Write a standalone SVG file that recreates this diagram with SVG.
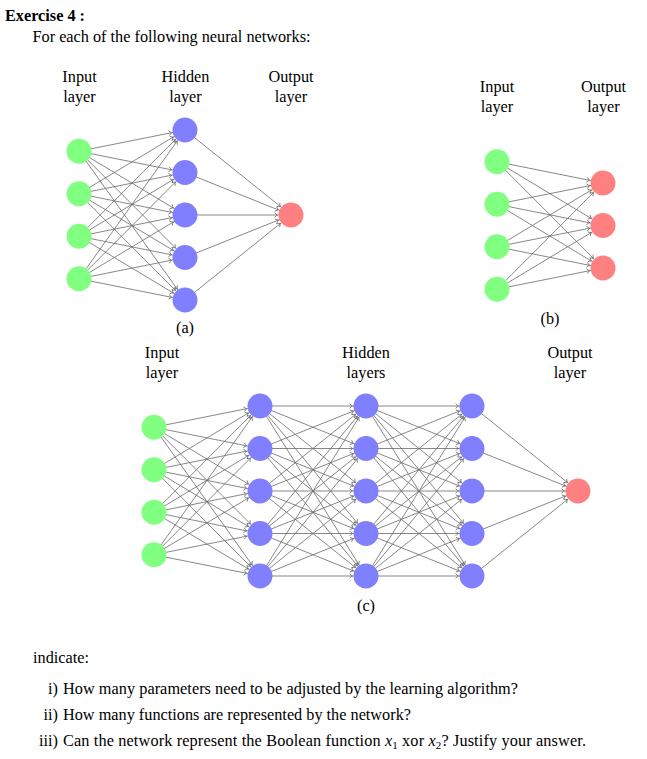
<svg xmlns="http://www.w3.org/2000/svg" width="647" height="759" viewBox="0 0 647 759">
<style>
text{font-family:"Liberation Serif","Times New Roman",serif;font-size:16.25px;fill:#000}
.c{text-anchor:middle}
.b{font-weight:bold}
.in{fill:#80FF80}
.hd{fill:#8080FF}
.out{fill:#FF8080}
#connectors line{stroke:#6a6a6a;stroke-width:0.8;marker-end:url(#ah)}
</style>
<defs>
<marker id="ah" markerUnits="userSpaceOnUse" markerWidth="20" markerHeight="10" refX="13.6" refY="0" orient="auto" style="overflow:visible">
<path d="M-2.8,-2.4 Q-1.2,-0.6 0,0 Q-1.2,0.6 -2.8,2.4" fill="none" stroke="#6a6a6a" stroke-width="0.8"/>
</marker>
</defs>
<rect width="647" height="759" fill="#fff"/>
<text x="5" y="21" class="b">Exercise 4 :</text>
<text x="32.5" y="42">For each of the following neural networks:</text>

<g id="labels-a">
<text x="79.5" y="82" class="c">Input</text><text x="79.5" y="102" class="c">layer</text>
<text x="185.5" y="82" class="c">Hidden</text><text x="185.5" y="102" class="c">layer</text>
<text x="291" y="82" class="c">Output</text><text x="291" y="102" class="c">layer</text>
<text x="185" y="333" class="c">(a)</text>
</g>
<g id="labels-b">
<text x="497" y="92" class="c">Input</text><text x="497" y="112" class="c">layer</text>
<text x="603.5" y="92" class="c">Output</text><text x="603.5" y="112" class="c">layer</text>
<text x="550" y="324" class="c">(b)</text>
</g>
<g id="labels-c">
<text x="162" y="358" class="c">Input</text><text x="162" y="378" class="c">layer</text>
<text x="366" y="358" class="c">Hidden</text><text x="366" y="378" class="c">layers</text>
<text x="570" y="358" class="c">Output</text><text x="570" y="378" class="c">layer</text>
<text x="366" y="611" class="c">(c)</text>
</g>

<g id="connectors">
<!-- (a) input -> hidden -->
<line x1="79" y1="151.25" x2="185" y2="130"/><line x1="79" y1="151.25" x2="185" y2="172.5"/><line x1="79" y1="151.25" x2="185" y2="215"/><line x1="79" y1="151.25" x2="185" y2="257.5"/><line x1="79" y1="151.25" x2="185" y2="300"/>
<line x1="79" y1="193.75" x2="185" y2="130"/><line x1="79" y1="193.75" x2="185" y2="172.5"/><line x1="79" y1="193.75" x2="185" y2="215"/><line x1="79" y1="193.75" x2="185" y2="257.5"/><line x1="79" y1="193.75" x2="185" y2="300"/>
<line x1="79" y1="236.25" x2="185" y2="130"/><line x1="79" y1="236.25" x2="185" y2="172.5"/><line x1="79" y1="236.25" x2="185" y2="215"/><line x1="79" y1="236.25" x2="185" y2="257.5"/><line x1="79" y1="236.25" x2="185" y2="300"/>
<line x1="79" y1="278.75" x2="185" y2="130"/><line x1="79" y1="278.75" x2="185" y2="172.5"/><line x1="79" y1="278.75" x2="185" y2="215"/><line x1="79" y1="278.75" x2="185" y2="257.5"/><line x1="79" y1="278.75" x2="185" y2="300"/>
<!-- (a) hidden -> output -->
<line x1="185" y1="130" x2="291" y2="215"/><line x1="185" y1="172.5" x2="291" y2="215"/><line x1="185" y1="215" x2="291" y2="215"/><line x1="185" y1="257.5" x2="291" y2="215"/><line x1="185" y1="300" x2="291" y2="215"/>
<!-- (b) input -> output -->
<line x1="497" y1="161.75" x2="603" y2="183"/><line x1="497" y1="161.75" x2="603" y2="225.5"/><line x1="497" y1="161.75" x2="603" y2="268"/>
<line x1="497" y1="204.25" x2="603" y2="183"/><line x1="497" y1="204.25" x2="603" y2="225.5"/><line x1="497" y1="204.25" x2="603" y2="268"/>
<line x1="497" y1="246.75" x2="603" y2="183"/><line x1="497" y1="246.75" x2="603" y2="225.5"/><line x1="497" y1="246.75" x2="603" y2="268"/>
<line x1="497" y1="289.25" x2="603" y2="183"/><line x1="497" y1="289.25" x2="603" y2="225.5"/><line x1="497" y1="289.25" x2="603" y2="268"/>
<!-- (c) input -> hidden 1 -->
<line x1="154" y1="427.25" x2="260" y2="406"/><line x1="154" y1="427.25" x2="260" y2="448.5"/><line x1="154" y1="427.25" x2="260" y2="491"/><line x1="154" y1="427.25" x2="260" y2="533.5"/><line x1="154" y1="427.25" x2="260" y2="576"/>
<line x1="154" y1="469.75" x2="260" y2="406"/><line x1="154" y1="469.75" x2="260" y2="448.5"/><line x1="154" y1="469.75" x2="260" y2="491"/><line x1="154" y1="469.75" x2="260" y2="533.5"/><line x1="154" y1="469.75" x2="260" y2="576"/>
<line x1="154" y1="512.25" x2="260" y2="406"/><line x1="154" y1="512.25" x2="260" y2="448.5"/><line x1="154" y1="512.25" x2="260" y2="491"/><line x1="154" y1="512.25" x2="260" y2="533.5"/><line x1="154" y1="512.25" x2="260" y2="576"/>
<line x1="154" y1="554.75" x2="260" y2="406"/><line x1="154" y1="554.75" x2="260" y2="448.5"/><line x1="154" y1="554.75" x2="260" y2="491"/><line x1="154" y1="554.75" x2="260" y2="533.5"/><line x1="154" y1="554.75" x2="260" y2="576"/>
<!-- (c) hidden 1 -> hidden 2 -->
<line x1="260" y1="406" x2="366" y2="406"/><line x1="260" y1="406" x2="366" y2="448.5"/><line x1="260" y1="406" x2="366" y2="491"/><line x1="260" y1="406" x2="366" y2="533.5"/><line x1="260" y1="406" x2="366" y2="576"/>
<line x1="260" y1="448.5" x2="366" y2="406"/><line x1="260" y1="448.5" x2="366" y2="448.5"/><line x1="260" y1="448.5" x2="366" y2="491"/><line x1="260" y1="448.5" x2="366" y2="533.5"/><line x1="260" y1="448.5" x2="366" y2="576"/>
<line x1="260" y1="491" x2="366" y2="406"/><line x1="260" y1="491" x2="366" y2="448.5"/><line x1="260" y1="491" x2="366" y2="491"/><line x1="260" y1="491" x2="366" y2="533.5"/><line x1="260" y1="491" x2="366" y2="576"/>
<line x1="260" y1="533.5" x2="366" y2="406"/><line x1="260" y1="533.5" x2="366" y2="448.5"/><line x1="260" y1="533.5" x2="366" y2="491"/><line x1="260" y1="533.5" x2="366" y2="533.5"/><line x1="260" y1="533.5" x2="366" y2="576"/>
<line x1="260" y1="576" x2="366" y2="406"/><line x1="260" y1="576" x2="366" y2="448.5"/><line x1="260" y1="576" x2="366" y2="491"/><line x1="260" y1="576" x2="366" y2="533.5"/><line x1="260" y1="576" x2="366" y2="576"/>
<!-- (c) hidden 2 -> hidden 3 -->
<line x1="366" y1="406" x2="472" y2="406"/><line x1="366" y1="406" x2="472" y2="448.5"/><line x1="366" y1="406" x2="472" y2="491"/><line x1="366" y1="406" x2="472" y2="533.5"/><line x1="366" y1="406" x2="472" y2="576"/>
<line x1="366" y1="448.5" x2="472" y2="406"/><line x1="366" y1="448.5" x2="472" y2="448.5"/><line x1="366" y1="448.5" x2="472" y2="491"/><line x1="366" y1="448.5" x2="472" y2="533.5"/><line x1="366" y1="448.5" x2="472" y2="576"/>
<line x1="366" y1="491" x2="472" y2="406"/><line x1="366" y1="491" x2="472" y2="448.5"/><line x1="366" y1="491" x2="472" y2="491"/><line x1="366" y1="491" x2="472" y2="533.5"/><line x1="366" y1="491" x2="472" y2="576"/>
<line x1="366" y1="533.5" x2="472" y2="406"/><line x1="366" y1="533.5" x2="472" y2="448.5"/><line x1="366" y1="533.5" x2="472" y2="491"/><line x1="366" y1="533.5" x2="472" y2="533.5"/><line x1="366" y1="533.5" x2="472" y2="576"/>
<line x1="366" y1="576" x2="472" y2="406"/><line x1="366" y1="576" x2="472" y2="448.5"/><line x1="366" y1="576" x2="472" y2="491"/><line x1="366" y1="576" x2="472" y2="533.5"/><line x1="366" y1="576" x2="472" y2="576"/>
<!-- (c) hidden 3 -> output -->
<line x1="472" y1="406" x2="578" y2="491"/><line x1="472" y1="448.5" x2="578" y2="491"/><line x1="472" y1="491" x2="578" y2="491"/><line x1="472" y1="533.5" x2="578" y2="491"/><line x1="472" y1="576" x2="578" y2="491"/>
</g>

<g id="net-a">
<g id="a-in1"><circle class="in" cx="79" cy="151.25" r="12.5"/></g>
<g id="a-in2"><circle class="in" cx="79" cy="193.75" r="12.5"/></g>
<g id="a-in3"><circle class="in" cx="79" cy="236.25" r="12.5"/></g>
<g id="a-in4"><circle class="in" cx="79" cy="278.75" r="12.5"/></g>
<g id="a-h1"><circle class="hd" cx="185" cy="130" r="12.5"/></g>
<g id="a-h2"><circle class="hd" cx="185" cy="172.5" r="12.5"/></g>
<g id="a-h3"><circle class="hd" cx="185" cy="215" r="12.5"/></g>
<g id="a-h4"><circle class="hd" cx="185" cy="257.5" r="12.5"/></g>
<g id="a-h5"><circle class="hd" cx="185" cy="300" r="12.5"/></g>
<g id="a-out"><circle class="out" cx="291" cy="215" r="12.5"/></g>
</g>
<g id="net-b">
<g id="b-in1"><circle class="in" cx="497" cy="161.75" r="12.5"/></g>
<g id="b-in2"><circle class="in" cx="497" cy="204.25" r="12.5"/></g>
<g id="b-in3"><circle class="in" cx="497" cy="246.75" r="12.5"/></g>
<g id="b-in4"><circle class="in" cx="497" cy="289.25" r="12.5"/></g>
<g id="b-out1"><circle class="out" cx="603" cy="183" r="12.5"/></g>
<g id="b-out2"><circle class="out" cx="603" cy="225.5" r="12.5"/></g>
<g id="b-out3"><circle class="out" cx="603" cy="268" r="12.5"/></g>
</g>
<g id="net-c">
<g id="c-in1"><circle class="in" cx="154" cy="427.25" r="12.5"/></g>
<g id="c-in2"><circle class="in" cx="154" cy="469.75" r="12.5"/></g>
<g id="c-in3"><circle class="in" cx="154" cy="512.25" r="12.5"/></g>
<g id="c-in4"><circle class="in" cx="154" cy="554.75" r="12.5"/></g>
<g id="c-h1-1"><circle class="hd" cx="260" cy="406" r="12.5"/></g>
<g id="c-h1-2"><circle class="hd" cx="260" cy="448.5" r="12.5"/></g>
<g id="c-h1-3"><circle class="hd" cx="260" cy="491" r="12.5"/></g>
<g id="c-h1-4"><circle class="hd" cx="260" cy="533.5" r="12.5"/></g>
<g id="c-h1-5"><circle class="hd" cx="260" cy="576" r="12.5"/></g>
<g id="c-h2-1"><circle class="hd" cx="366" cy="406" r="12.5"/></g>
<g id="c-h2-2"><circle class="hd" cx="366" cy="448.5" r="12.5"/></g>
<g id="c-h2-3"><circle class="hd" cx="366" cy="491" r="12.5"/></g>
<g id="c-h2-4"><circle class="hd" cx="366" cy="533.5" r="12.5"/></g>
<g id="c-h2-5"><circle class="hd" cx="366" cy="576" r="12.5"/></g>
<g id="c-h3-1"><circle class="hd" cx="472" cy="406" r="12.5"/></g>
<g id="c-h3-2"><circle class="hd" cx="472" cy="448.5" r="12.5"/></g>
<g id="c-h3-3"><circle class="hd" cx="472" cy="491" r="12.5"/></g>
<g id="c-h3-4"><circle class="hd" cx="472" cy="533.5" r="12.5"/></g>
<g id="c-h3-5"><circle class="hd" cx="472" cy="576" r="12.5"/></g>
<g id="c-out"><circle class="out" cx="578" cy="491" r="12.5"/></g>
</g>

<g id="questions">
<text x="33" y="663">indicate:</text>
<text x="58" y="694" text-anchor="end">i)</text><text x="63" y="694" textLength="455" lengthAdjust="spacing">How many parameters need to be adjusted by the learning algorithm?</text>
<text x="58" y="720" text-anchor="end">ii)</text><text x="63" y="720" textLength="348" lengthAdjust="spacing">How many functions are represented by the network?</text>
<text x="58" y="746" text-anchor="end">iii)</text><text x="63" y="746" textLength="523" lengthAdjust="spacing">Can the network represent the Boolean function <tspan font-style="italic">x</tspan><tspan font-size="11" dy="2.5">1</tspan><tspan dy="-2.5"> xor </tspan><tspan font-style="italic">x</tspan><tspan font-size="11" dy="2.5">2</tspan><tspan dy="-2.5">? Justify your answer.</tspan></text>
</g>
</svg>
